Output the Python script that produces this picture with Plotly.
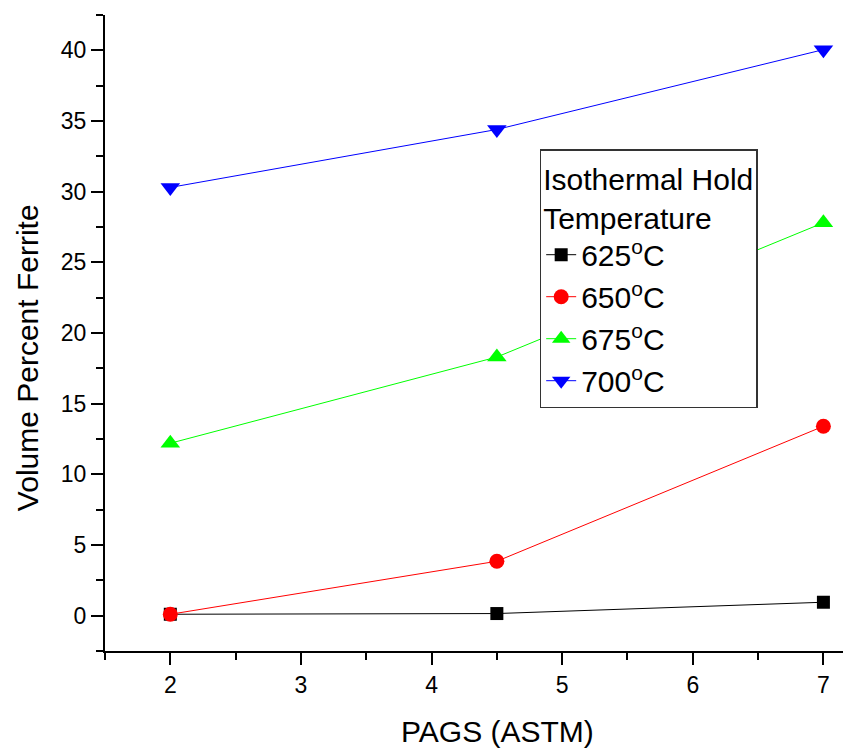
import plotly.graph_objects as go

pags = [2, 4.5, 7]
series_names = ["625<sup>o</sup>C", "650<sup>o</sup>C", "675<sup>o</sup>C", "700<sup>o</sup>C"]
v625 = [0.1, 0.15, 0.95]
v650 = [0.1, 3.85, 13.4]
v675 = [12.2, 18.3, 27.8]
v700 = [30.3, 34.4, 40.05]
x_title = "PAGS (ASTM)"
y_title = "Volume Percent Ferrite"
legend_title = "Isothermal Hold<br>Temperature"
colors = ["#000000", "#FF0000", "#00FF00", "#0000FF"]
symbols = ["square", "circle", "triangle-up", "triangle-down"]
sizes = [13, 15, 17, 17]

fig = go.Figure()
for i, (name, vals) in enumerate(zip(series_names, [v625, v650, v675, v700])):
    fig.add_trace(go.Scatter(
        x=pags, y=vals, name=name, mode="lines+markers",
        line=dict(color=colors[i], width=1),
        marker=dict(symbol=symbols[i], size=sizes[i], color=colors[i], line=dict(width=0)),
        legendgroup="g%d" % i,
    ))

font_family = "Liberation Sans, Arial, sans-serif"
axis_common = dict(
    showline=True, linecolor="black", linewidth=2, mirror=False,
    ticks="outside", ticklen=12, tickwidth=2, tickcolor="black",
    showgrid=False, zeroline=False,
    tickfont=dict(family=font_family, size=23, color="black"),
)

fig.update_layout(
    width=846, height=751,
    margin=dict(l=105, r=3, t=15, b=100),
    plot_bgcolor="white", paper_bgcolor="white",
    font=dict(family=font_family, color="black"),
    xaxis=dict(range=[1.5, 7.15], dtick=1, tick0=0,
               minor=dict(dtick=0.5, tick0=0, ticks="outside", ticklen=7, tickwidth=2, tickcolor="black"),
               **axis_common),
    yaxis=dict(range=[-2.5, 42.5], dtick=5, tick0=0,
               minor=dict(dtick=2.5, tick0=0, ticks="outside", ticklen=7, tickwidth=2, tickcolor="black"),
               **axis_common),
    legend=dict(
        x=0.589, y=0.789, xanchor="left", yanchor="top",
        bgcolor="white", bordercolor="#333333", borderwidth=1.5,
        font=dict(family=font_family, size=30, color="black"),
        title=dict(text=legend_title, side="top",
                   font=dict(family=font_family, size=30, color="black")),
        tracegroupgap=0, itemwidth=30,
    ),
    showlegend=True,
    annotations=[
        dict(text=x_title, xref="paper", yref="paper", x=0.532, y=-0.126,
             xanchor="center", yanchor="middle", showarrow=False,
             font=dict(family=font_family, size=30, color="black")),
        dict(text=y_title, xref="paper", yref="paper", x=-0.1057, y=0.462,
             xanchor="center", yanchor="middle", showarrow=False, textangle=-90,
             font=dict(family=font_family, size=30, color="black")),
    ],
)

fig.write_html("out.html")
